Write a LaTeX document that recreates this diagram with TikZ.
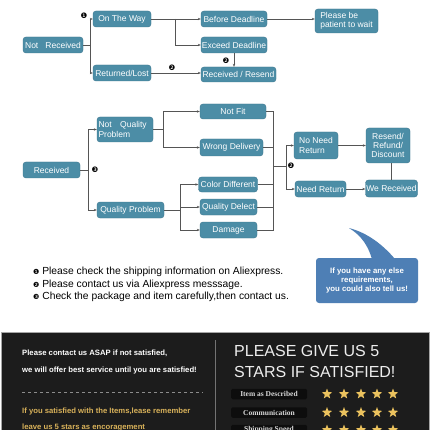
\documentclass[tikz,border=0pt]{standalone}
\usepackage{fontspec}
\setmainfont{Liberation Sans}
\newfontfamily\djv{DejaVu Sans}
\newfontfamily\serifF{Liberation Serif}
\usetikzlibrary{shapes.geometric,arrows.meta}
\definecolor{boxfill}{RGB}{76,141,166}
\definecolor{boxline}{RGB}{58,118,142}
\definecolor{conn}{RGB}{85,85,85}
\definecolor{bubble}{RGB}{78,127,181}
\definecolor{panel}{RGB}{28,28,28}
\definecolor{gold}{RGB}{217,178,90}
\definecolor{stargold}{RGB}{235,194,94}
\tikzset{
  fbox/.style={draw=boxline, fill=boxfill, rounded corners=3pt, text=white, inner sep=0pt, font=\fontsize{8.5}{9.3}\selectfont, line width=0.4pt},
  cline/.style={draw=conn, line width=0.7pt},
  arr/.style={cline, -{Stealth[length=3pt,width=2.4pt]}},
  numbadge/.style={font=\djv\fontsize{7.5}{7.5}\selectfont, inner sep=0pt},
  note/.style={anchor=west, inner sep=0pt, font=\fontsize{10.3}{11}\selectfont},
  ptext/.style={anchor=west, inner sep=0pt, text=white, font=\bfseries\fontsize{7.7}{8.5}\selectfont},
  gtext/.style={ptext, text=gold},
  title/.style={anchor=west, inner sep=0pt, text=white!93!black, font=\fontsize{16}{17}\selectfont},
  rlabel/.style={fill=black!95, rounded corners=1.5pt, inner sep=0pt, minimum width=76, minimum height=10.5, text=white!85!black, font=\serifF\bfseries\fontsize{7.5}{8}\selectfont},
  rstar/.style={star, star points=5, star point ratio=2.4, fill=stargold, inner sep=0pt, minimum size=11}
}
\begin{document}
\begin{tikzpicture}[x=1pt,y=-1pt]
\useasboundingbox (0,0) rectangle (430,430);
\clip (0,0) rectangle (430,430);
\fill[white] (0,0) rectangle (430,430);

% ---------- top flow ----------
\node[fbox, minimum width=60, minimum height=16] (nr) at (53,45) {Not\ \ \ Received};
\node[fbox, minimum width=58, minimum height=16] (otw) at (122,19) {On The Way};
\node[fbox, minimum width=58, minimum height=16] (rl) at (122,73) {Returned/Lost};
\node[fbox, minimum width=66, minimum height=16] (bd) at (234,19) {Before Deadline};
\node[fbox, minimum width=66, minimum height=16] (ed) at (234,45) {Exceed Deadline};
\node[fbox, minimum width=75, minimum height=15] (rr) at (238.5,74.5) {Received / Resend};
\node[fbox, minimum width=63, minimum height=24, align=left] (pbw) at (346.5,21) {Please be\\patient to wait};

\coordinate (j1) at (90,45);
\coordinate (j2) at (175,19);
\draw[cline] (nr.east) -- (j1);
\draw[arr] (j1) |- (otw.west);
\draw[arr] (j1) |- (rl.west);
\draw[cline] (otw.east) -- (j2);
\draw[arr] (j2) -- (bd.west);
\draw[arr] (j2) |- (ed.west);
\draw[arr] (bd.east) -- (pbw.west |- bd.east);
\draw[arr] (ed.south) -- (rr.north -| ed.south);
\draw[arr] (rl.east) -- (rr.west |- rl.east);
\node[numbadge] (m1) at (84,16) {❶};
\node[numbadge] (m2a) at (172,68) {❷};
\node[numbadge] (m2b) at (226,61) {❷};

% ---------- middle flow ----------
\node[fbox, minimum width=57, minimum height=16] (rec) at (51.5,170) {Received};
\node[fbox, minimum width=56, minimum height=25, align=left, text width=53] (nqp) at (125,129.5) {Not\ \ \ Quality\\Problem};
\node[fbox, minimum width=67, minimum height=16] (qp) at (130.5,210) {Quality Problem};
\node[fbox, minimum width=66, minimum height=15] (nf) at (233,111.5) {Not Fit};
\node[fbox, minimum width=63, minimum height=17] (wd) at (231.5,147.5) {Wrong Delivery};
\node[fbox, minimum width=59, minimum height=15] (cd) at (228,184.5) {Color Different};
\node[fbox, minimum width=57, minimum height=16] (qd) at (228.5,207) {Quality Delect};
\node[fbox, minimum width=57, minimum height=16] (dm) at (228.5,230) {Damage};
\node[fbox, minimum width=44, minimum height=27, align=left] (nnr) at (316,145.5) {No Need\\Return};
\node[fbox, minimum width=51, minimum height=16] (need) at (320.5,189) {Need Return};
\node[fbox, minimum width=44, minimum height=35, align=center] (rrd) at (388,145.5) {Resend/\\Refund/\\Discount};
\node[fbox, minimum width=52, minimum height=17] (wr) at (391.5,188.5) {We Received};

\coordinate (j3) at (88,170);
\coordinate (j4) at (163,130);
\coordinate (j5) at (180,210);
\coordinate (j6) at (273,166);
\coordinate (j7) at (286,166);
\draw[cline] (rec.east) -- (j3);
\draw[arr] (j3) |- (nqp.west);
\draw[arr] (j3) |- (qp.west);
\draw[cline] (nqp.east) -- (nqp.east -| j4);
\draw[arr] (j4) |- (nf.west);
\draw[arr] (j4) |- (wd.west);
\draw[cline] (qp.east) -- (j5);
\draw[arr] (j5) |- (cd.west);
\draw[arr] (j5) |- (qd.west);
\draw[arr] (j5) |- (dm.west);
\draw[cline] (nf.east) -| (j6);
\draw[cline] (dm.east) -| (j6);
\draw[cline] (wd.east) -- (wd.east -| j6);
\draw[cline] (cd.east) -- (cd.east -| j6);
\draw[cline] (qd.east) -- (qd.east -| j6);
\draw[cline] (j6) -- (j7);
\draw[arr] (j7) |- (nnr.west);
\draw[arr] (j7) |- (need.west);
\draw[arr] (nnr.east) -- (rrd.west |- nnr.east);
\draw[arr] (need.east) -- (wr.west |- need.east);
\draw[cline] (wr.north) -- (wr.north |- rrd.south);
\node[numbadge] (m3) at (95,170) {❸};
\node[numbadge] (m2c) at (291,166) {❷};

% ---------- notes ----------
\node[note] (n1) at (33,272) {{\djv\fontsize{7}{7}\selectfont ❶} Please check the shipping information on Aliexpress.};
\node[note] (n2) at (33,284.5) {{\djv\fontsize{7}{7}\selectfont ❷} Please contact us via Aliexpress messsage.};
\node[note] (n3) at (33,297) {{\djv\fontsize{7}{7}\selectfont ❸} Check the package and item carefully,then contact us.};

% ---------- speech bubble ----------
\fill[bubble] (372,259) .. controls (368,246) and (362,236) .. (349,228) .. controls (368,233) and (383,245) .. (395,259) -- cycle;
\node[fill=bubble, rounded corners=3pt, minimum width=102, minimum height=45, inner sep=0pt, align=center, text=white, font=\bfseries\fontsize{7.8}{9.2}\selectfont] (bub) at (367,280.5) {If you have any else\\requirements,\\you could also tell us!};

% ---------- dark panel ----------
\fill[panel] (1,332) rectangle (429,432);
\draw[black!35, line width=0.6pt] (1,432) -- (1,332) -- (429,332) -- (429,432);
\draw[black!55, line width=0.8pt] (215,340) -- (215,432);
\node[ptext] (t1) at (22,353) {Please contact us ASAP if not satisfied,};
\node[ptext] (t2) at (22,371) {we will offer best service until you are satisfied!};
\draw[black!45, dashed, line width=0.5pt] (22,392) -- (203,392);
\node[gtext] (t3) at (22,412) {If you satisfied with the Items,lease remember};
\node[gtext] (t4) at (22,427.5) {leave us 5 stars as encoragement};

\node[title] (h1) at (234,351) {PLEASE GIVE US 5};
\node[title] (h2) at (234,372) {STARS IF SATISFIED!};

\node[rlabel] (r1) at (269,394) {Item as Described};
\node[rlabel] (r2) at (269,412.5) {Communication};
\node[rlabel] (r3) at (269,430) {Shipping Speed};
\foreach \r/\y in {1/394, 2/412.5, 3/430}{
  \foreach \s/\x in {1/327, 2/344, 3/361, 4/377, 5/393}{
    \node[rstar] (s\r\s) at (\x,\y) {};
  }
}
\end{tikzpicture}
\end{document}
